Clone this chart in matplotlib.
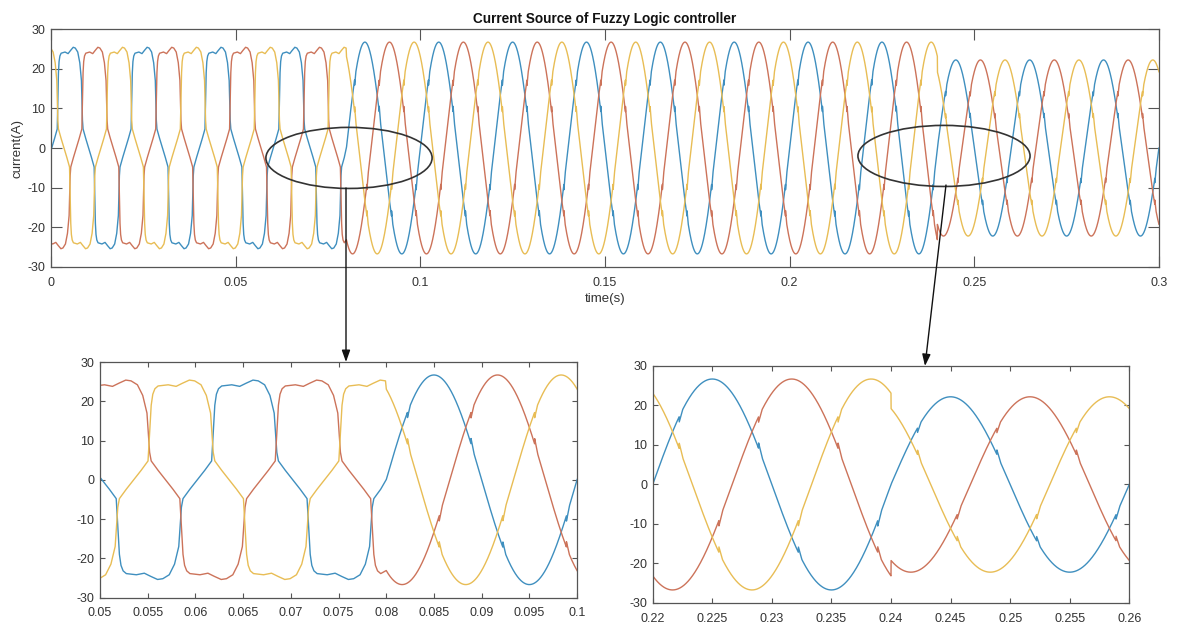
import numpy as np
import matplotlib
matplotlib.use('Agg')
import matplotlib.pyplot as plt
from matplotlib.patches import Ellipse, FancyArrowPatch

plt.rcParams['font.family'] = ['Liberation Sans', 'DejaVu Sans']
plt.rcParams['axes.unicode_minus'] = False

# --- values ---
F_HZ = 50.0                      # supply frequency (period 0.02 s)
PHASE_OFFSETS = [0, -120, 120]   # blue, red, yellow (deg)
COLORS = ['#3f8fbf', '#cc735a', '#e8bd55']

T_FUZZY_ON = 0.08                # distorted -> sinusoidal
T_LOAD_STEP = 0.24               # amplitude drop
AMP_1 = 26.7                     # peak current 0.08..0.24 s
AMP_2 = 22.2                     # peak current after 0.24 s
SHIFT_DISTORTED = 0.0002         # the flat-top wave sits a bit late

# one half cycle of the flat-topped current (deg, A), the other half is the negative
SHAPE_DEG = [0, 14, 27, 30, 33, 36, 40, 46, 65, 80, 92, 105, 115, 127, 137, 145, 150, 153, 166, 180]
SHAPE_VAL = [0, 2.4, 4.8, 12, 19.0, 21.8, 23.2, 23.9, 24.2, 23.8, 24.6, 25.4, 25.2, 24.2, 21.5, 17, 7, 4.8, 2.4, 0]

# small commutation notches in the sinusoidal part
NOTCH_START_DEG = 40
NOTCH_STEP_DEG = 60
NOTCH_SIZE = 1.4
NOTCH_LEN = 0.0003

MAIN_XTICKS = [0, 0.05, 0.1, 0.15, 0.2, 0.25, 0.3]
MAIN_XLABELS = ['0', '0.05', '0.1', '0.15', '0.2', '0.25', '0.3']
LEFT_XTICKS = [0.05, 0.055, 0.06, 0.065, 0.07, 0.075, 0.08, 0.085, 0.09, 0.095, 0.1]
LEFT_XLABELS = ['0.05', '0.055', '0.06', '0.065', '0.07', '0.075', '0.08', '0.085', '0.09', '0.095', '0.1']
RIGHT_XTICKS = [0.22, 0.225, 0.23, 0.235, 0.24, 0.245, 0.25, 0.255, 0.26]
RIGHT_XLABELS = ['0.22', '0.225', '0.23', '0.235', '0.24', '0.245', '0.25', '0.255', '0.26']
YTICKS = [-30, -20, -10, 0, 10, 20, 30]


def phase_current(off):
	deg_per_s = 360 * F_HZ
	# distorted part: tile the read shape over the cycles
	full_deg = np.array(SHAPE_DEG + [180 + d for d in SHAPE_DEG[1:]], dtype=float)
	full_val = np.array(SHAPE_VAL + [-v for v in SHAPE_VAL[1:]], dtype=float)
	t_d, v_d = [], []
	for k in range(-1, 6):
		t_d.append((full_deg[:-1] - off) / deg_per_s + SHIFT_DISTORTED + k / F_HZ)
		v_d.append(full_val[:-1])
	t_d = np.concatenate(t_d)
	v_d = np.concatenate(v_d)
	order = np.argsort(t_d)
	t_d, v_d = t_d[order], v_d[order]
	keep = t_d < T_FUZZY_ON
	t_d, v_d = t_d[keep], v_d[keep]

	# sinusoidal part
	dt = 1e-5
	t_s = np.arange(T_FUZZY_ON, 0.3 + dt, dt)
	amp = np.where(t_s < T_LOAD_STEP, AMP_1, AMP_2)
	v_s = amp * np.sin(np.radians(deg_per_s * t_s + off))

	# notches
	n0 = NOTCH_START_DEG / deg_per_s
	step = NOTCH_STEP_DEG / deg_per_s
	tn = n0 + step * np.ceil((T_FUZZY_ON - n0) / step)
	while tn < 0.3:
		thn = np.radians(deg_per_s * tn + off)
		if abs(np.sin(thn)) < 0.9:
			sgn = -np.sign(np.cos(thn))
			a = AMP_1 if tn < T_LOAD_STEP else AMP_2
			m = (t_s >= tn) & (t_s < tn + NOTCH_LEN)
			v_s[m] += sgn * NOTCH_SIZE * a / AMP_1 * (1 - (t_s[m] - tn) / NOTCH_LEN)
		tn += step

	return np.concatenate([t_d, t_s]), np.concatenate([v_d, v_s])


currents = [phase_current(off) for off in PHASE_OFFSETS]

fig = plt.figure(figsize=(11.82, 6.27), dpi=100)
ax_main = fig.add_axes([0.0431, 0.5742, 0.9374, 0.3795])
ax_left = fig.add_axes([0.0846, 0.0470, 0.4036, 0.3756])
ax_right = fig.add_axes([0.5522, 0.0383, 0.4032, 0.3780])

for ax in (ax_main, ax_left, ax_right):
	for (t, v), c in zip(currents, COLORS):
		ax.plot(t, v, color=c, lw=1.0)
	ax.set_ylim(-30, 30)
	ax.set_yticks(YTICKS)
	for s in ax.spines.values():
		s.set_color('#555555')
		s.set_linewidth(0.9)
	ax.tick_params(direction='in', top=True, right=True, width=0.8,
		color='#555555', labelsize=9, labelcolor='#333333')
	ax.tick_params(axis='y', pad=4)
	ax.tick_params(axis='x', pad=7)

ax_main.set_xlim(0, 0.3)
ax_main.set_xticks(MAIN_XTICKS)
ax_main.set_xticklabels(MAIN_XLABELS)
ax_main.tick_params(length=8)
ax_main.set_title('Current Source of Fuzzy Logic controller', fontsize=9.8,
	fontweight='bold', color='#111111', pad=4)
ax_main.set_xlabel('time(s)', fontsize=9.5, color='#333333', labelpad=3)
ax_main.set_ylabel('current(A)', fontsize=9.5, color='#333333', labelpad=3)

ax_left.set_xlim(0.05, 0.1)
ax_left.set_xticks(LEFT_XTICKS)
ax_left.set_xticklabels(LEFT_XLABELS)
ax_right.set_xlim(0.22, 0.26)
ax_right.set_xticks(RIGHT_XTICKS)
ax_right.set_xticklabels(RIGHT_XLABELS)
for ax in (ax_left, ax_right):
	ax.tick_params(length=3.5)

# zoom ellipses and arrows
for cx, cy, w in [(0.0807, -2.5, 0.045), (0.2418, -2.0, 0.0466)]:
	ax_main.add_patch(Ellipse((cx, cy), w, 15.4, fill=False, ec='#333333', lw=1.2,
		clip_on=False, zorder=5))

arrows = [((346, 188), (346, 362)), ((946, 185), (925, 366))]
for (x0, y0), (x1, y1) in arrows:
	fig.add_artist(FancyArrowPatch(
		(x0 / 1182, 1 - y0 / 627), (x1 / 1182, 1 - y1 / 627), transform=fig.transFigure,
		arrowstyle='-|>,head_length=7,head_width=2.5', color='#111111', lw=1.0,
		shrinkA=0, shrinkB=0))

fig.savefig('out.png', dpi=100, facecolor='white')
